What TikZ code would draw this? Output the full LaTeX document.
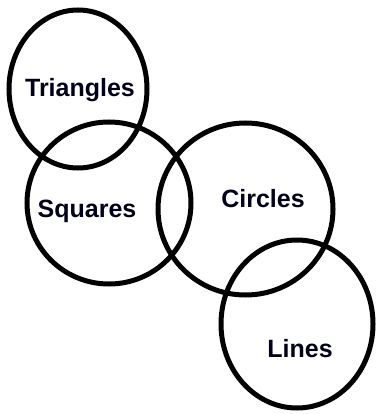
\documentclass[tikz,border=0pt]{standalone}
\usepackage{fontspec}
\setmainfont{Liberation Sans}
\usetikzlibrary{shapes.geometric}
\begin{document}
\begin{tikzpicture}[x=1pt,y=-1pt,
  setring/.style={draw=black,line width=5pt,ellipse,inner sep=0pt},
  setlabel/.style={font=\fontsize{25}{30}\selectfont\bfseries,text=black!90!blue,anchor=base,inner sep=0pt}]
\useasboundingbox[fill=white] (0,0) rectangle (377,414);
\node[setring,minimum width=138pt,minimum height=158pt] (tri) at (78,89) {};
\node[setring,minimum width=164pt,minimum height=162pt] (squ) at (109,203) {};
\node[setring,minimum width=175pt,minimum height=172pt] (cir) at (245.5,209) {};
\node[setring,minimum width=152pt,minimum height=168pt] (lin) at (297,324) {};
\node[setlabel] (ttri) at (80,97) {Triangles};
\node[setlabel] (tsqu) at (87,217) {Squares};
\node[setlabel] (tcir) at (263,207) {Circles};
\node[setlabel] (tlin) at (300,357) {Lines};
\end{tikzpicture}
\end{document}
